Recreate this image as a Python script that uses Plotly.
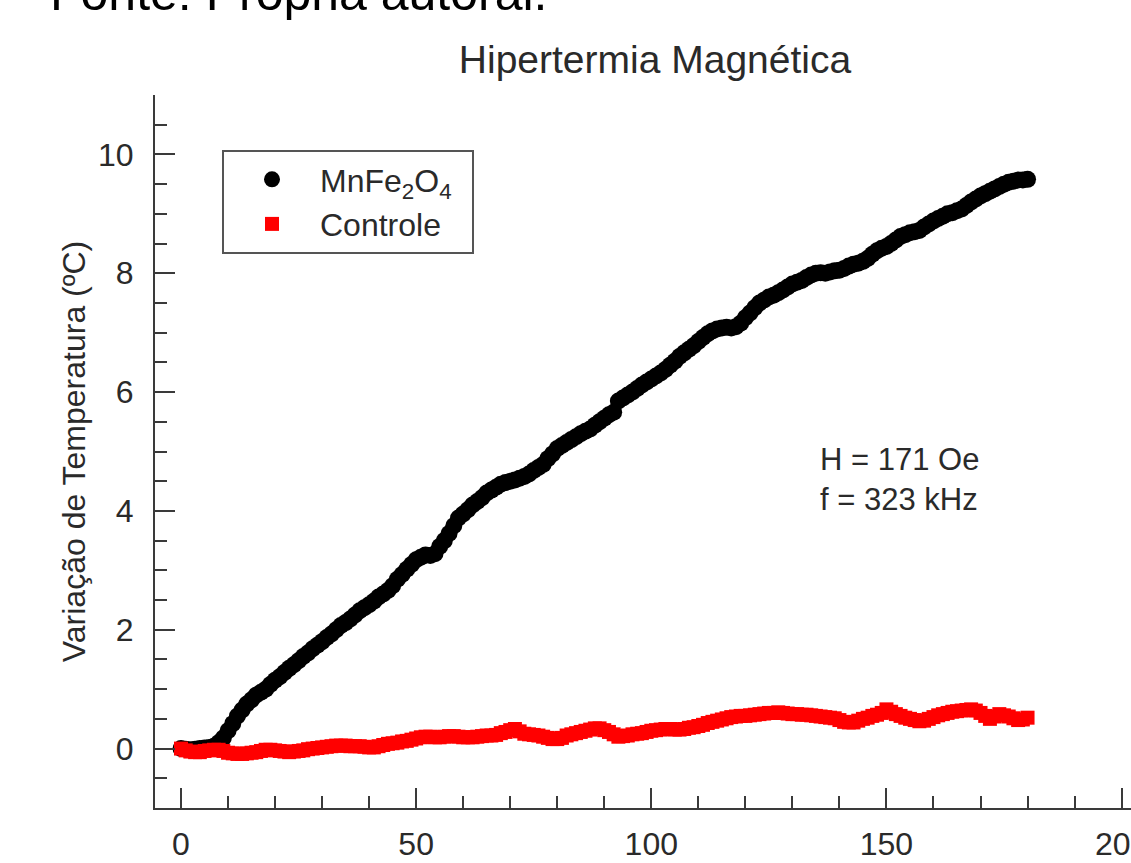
import plotly.graph_objects as go

# time (s)
time_s = list(range(0, 181))

# Variação de temperatura (ºC) - MnFe2O4
mnfe2o4 = [
    0.00, -0.01, -0.02, -0.01, 0.00, 0.01, 0.02, 0.04, 0.10, 0.18,
    0.30, 0.42, 0.55, 0.65, 0.75, 0.82, 0.90, 0.95, 1.00, 1.08,
    1.15, 1.21, 1.28, 1.35, 1.41, 1.48, 1.55, 1.61, 1.68, 1.74,
    1.80, 1.87, 1.93, 2.00, 2.07, 2.12, 2.18, 2.25, 2.32, 2.37,
    2.42, 2.48, 2.55, 2.60, 2.66, 2.74, 2.85, 2.93, 3.02, 3.10,
    3.18, 3.22, 3.26, 3.25, 3.28, 3.40, 3.50, 3.62, 3.75, 3.88,
    3.95, 4.02, 4.10, 4.16, 4.22, 4.30, 4.35, 4.40, 4.45, 4.48,
    4.50, 4.52, 4.55, 4.58, 4.62, 4.68, 4.73, 4.78, 4.88, 4.96,
    5.05, 5.10, 5.15, 5.20, 5.25, 5.30, 5.34, 5.38, 5.44, 5.50,
    5.56, 5.62, 5.66, 5.85, 5.90, 5.95, 6.00, 6.06, 6.12, 6.17,
    6.22, 6.27, 6.32, 6.38, 6.45, 6.52, 6.60, 6.66, 6.72, 6.78,
    6.85, 6.92, 6.98, 7.03, 7.06, 7.08, 7.09, 7.08, 7.10, 7.16,
    7.25, 7.33, 7.42, 7.50, 7.55, 7.60, 7.63, 7.67, 7.72, 7.77,
    7.82, 7.85, 7.88, 7.93, 7.97, 8.00, 8.01, 8.00, 8.02, 8.04,
    8.05, 8.08, 8.12, 8.15, 8.17, 8.20, 8.25, 8.32, 8.38, 8.42,
    8.45, 8.50, 8.56, 8.62, 8.65, 8.68, 8.70, 8.72, 8.78, 8.83,
    8.88, 8.92, 8.96, 9.00, 9.02, 9.05, 9.08, 9.14, 9.20, 9.25,
    9.30, 9.34, 9.38, 9.42, 9.46, 9.50, 9.53, 9.55, 9.57, 9.57,
    9.58,
]

# Variação de temperatura (ºC) - Controle
controle = [
    0.00, -0.03, -0.05, -0.06, -0.06, -0.04, -0.03, -0.02, -0.02, -0.04,
    -0.07, -0.08, -0.09, -0.09, -0.08, -0.07, -0.06, -0.04, -0.02, -0.02,
    -0.03, -0.04, -0.05, -0.06, -0.05, -0.04, -0.03, -0.01, 0.00, 0.01,
    0.02, 0.03, 0.04, 0.05, 0.05, 0.05, 0.04, 0.04, 0.04, 0.03,
    0.02, 0.02, 0.04, 0.06, 0.08, 0.09, 0.10, 0.12, 0.13, 0.15,
    0.17, 0.19, 0.20, 0.20, 0.19, 0.19, 0.20, 0.21, 0.21, 0.20,
    0.19, 0.19, 0.19, 0.20, 0.21, 0.22, 0.22, 0.23, 0.26, 0.28,
    0.31, 0.33, 0.29, 0.25, 0.24, 0.23, 0.22, 0.20, 0.18, 0.16,
    0.16, 0.18, 0.22, 0.24, 0.26, 0.28, 0.30, 0.32, 0.34, 0.34,
    0.31, 0.28, 0.24, 0.20, 0.21, 0.22, 0.24, 0.25, 0.26, 0.28,
    0.30, 0.31, 0.32, 0.33, 0.33, 0.32, 0.32, 0.33, 0.35, 0.36,
    0.38, 0.40, 0.43, 0.45, 0.47, 0.49, 0.51, 0.53, 0.54, 0.55,
    0.55, 0.56, 0.57, 0.58, 0.59, 0.60, 0.60, 0.61, 0.60, 0.59,
    0.58, 0.58, 0.57, 0.57, 0.56, 0.55, 0.54, 0.53, 0.52, 0.51,
    0.48, 0.45, 0.44, 0.44, 0.47, 0.50, 0.52, 0.55, 0.57, 0.60,
    0.66, 0.62, 0.58, 0.55, 0.52, 0.50, 0.48, 0.46, 0.47, 0.50,
    0.53, 0.56, 0.58, 0.60, 0.62, 0.63, 0.64, 0.65, 0.66, 0.64,
    0.60, 0.55, 0.50, 0.54, 0.58, 0.56, 0.54, 0.51, 0.48, 0.49,
    0.52,
]

series_names = ["MnFe<sub>2</sub>O<sub>4</sub>\u00a0\u2009", "Controle"]
title_text = "Hipertermia Magnética"
y_title = "Variação de Temperatura (ºC)"
note_text = "H = 171 Oe<br>f = 323 kHz"
source_text = "Fonte: Própria autoral."

FONT = "Liberation Sans, Arial, sans-serif"
AX = "#3a3a3a"
TXT = "#2a2a2a"

fig = go.Figure()
fig.add_trace(go.Scatter(
    x=time_s, y=mnfe2o4, mode="markers", name=series_names[0],
    marker=dict(symbol="circle", size=17, color="#000000", line=dict(width=0)),
))
fig.add_trace(go.Scatter(
    x=time_s, y=controle, mode="markers", name=series_names[1],
    marker=dict(symbol="square", size=14, color="#ff0000", line=dict(width=0)),
))

fig.update_layout(
    width=1131, height=863,
    margin=dict(l=155, r=0, t=95, b=55, pad=0, autoexpand=False),
    paper_bgcolor="white", plot_bgcolor="white",
    font=dict(family=FONT, size=32, color=TXT),
    title=dict(text=title_text, x=0.5123, xref="paper", xanchor="center",
               y=1 - 59 / 863, yref="container", yanchor="middle",
               font=dict(family=FONT, size=39, color=TXT)),
    showlegend=True,
    legend=dict(x=(222 - 155) / 976, y=(808 - 150) / 713, xanchor="left", yanchor="top",
                bgcolor="white", bordercolor="#555555", borderwidth=2,
                font=dict(family=FONT, size=32, color=TXT),
                itemwidth=86, tracegroupgap=0),
)

fig.update_xaxes(
    range=[-5.53, 202.0], showgrid=False, zeroline=False, automargin=False,
    showline=True, linecolor=AX, linewidth=2,
    ticks="inside", ticklen=20, tickwidth=2, tickcolor=AX,
    tick0=0, dtick=50, ticklabelstandoff=7, ticklabeloverflow="allow",
    tickfont=dict(family=FONT, size=32, color=TXT),
    minor=dict(ticks="inside", dtick=10, tick0=0, ticklen=12, tickwidth=2, tickcolor=AX),
)
fig.update_yaxes(
    range=[-1, 11], showgrid=False, zeroline=False, automargin=False,
    showline=True, linecolor=AX, linewidth=2,
    ticks="inside", ticklen=20, tickwidth=2, tickcolor=AX,
    tick0=0, dtick=2, ticklabelstandoff=13,
    tickfont=dict(family=FONT, size=32, color=TXT),
    minor=dict(ticks="inside", dtick=0.5, tick0=0, ticklen=12, tickwidth=2, tickcolor=AX),
    title=dict(text=y_title, standoff=3, font=dict(family=FONT, size=32, color=TXT)),
)

fig.add_annotation(
    text=note_text, x=135.4, y=5.20, xref="x", yref="y",
    xanchor="left", yanchor="top", align="left", showarrow=False,
    font=dict(family=FONT, size=31, color=TXT),
)
fig.add_annotation(
    text=source_text, x=(48 - 155) / 976, y=(808 - 23) / 713, xref="paper", yref="paper",
    showarrow=False, xanchor="left", yanchor="bottom",
    font=dict(family=FONT, size=50, color="#000000"),
)

fig.write_html("out.html")
